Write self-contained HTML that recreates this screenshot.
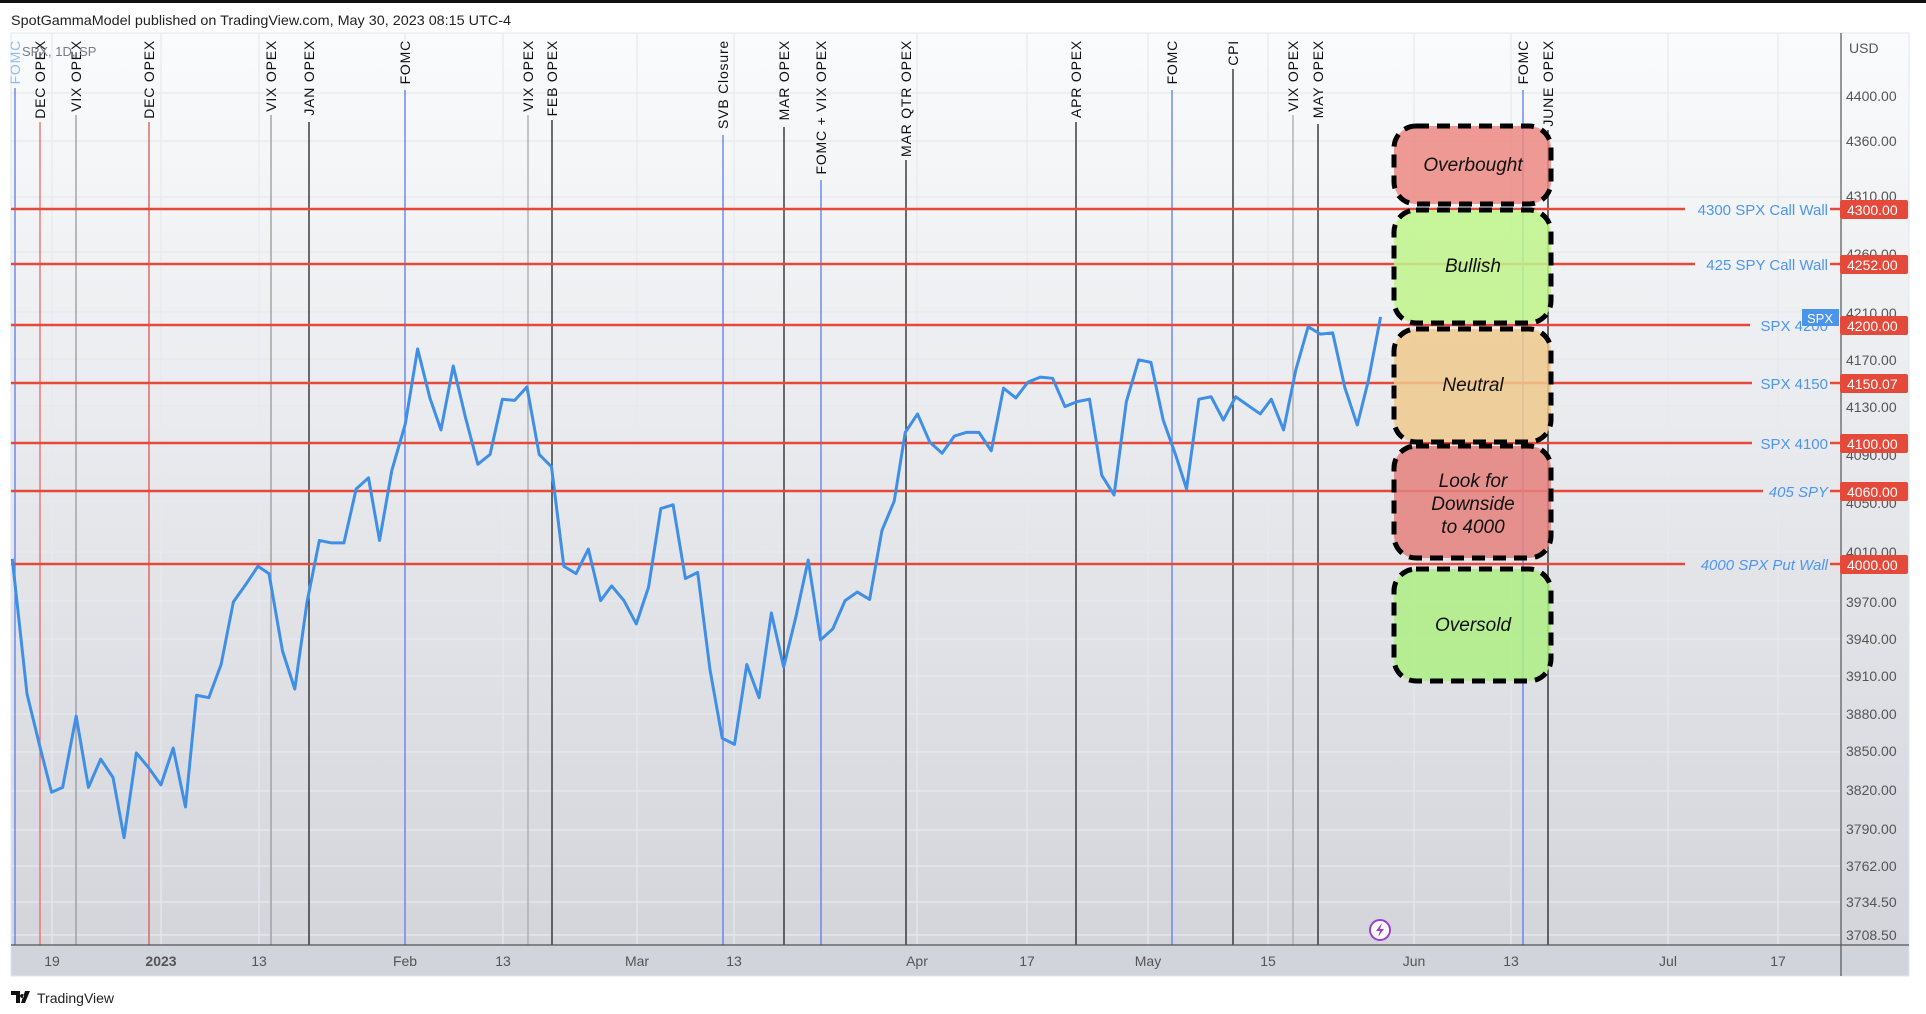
<!DOCTYPE html>
<html><head><meta charset="utf-8"><style>
html,body{margin:0;padding:0;background:#fff;}
svg{display:block;font-family:"Liberation Sans",sans-serif;}
</style></head><body>
<svg width="1926" height="1014" viewBox="0 0 1926 1014" xmlns="http://www.w3.org/2000/svg">
<defs>
<linearGradient id="bg" x1="0" y1="0" x2="0" y2="1">
<stop offset="0" stop-color="#fafbfc"/><stop offset="1" stop-color="#d3d5db"/>
</linearGradient>
</defs>
<rect x="0" y="0" width="1926" height="1014" fill="#fff"/>
<rect x="0" y="0" width="1926" height="3" fill="#111"/>
<text x="11" y="25" font-size="14" fill="#222" textLength="500" lengthAdjust="spacingAndGlyphs">SpotGammaModel published on TradingView.com, May 30, 2023 08:15 UTC-4</text>
<rect x="11" y="33" width="1898" height="912" fill="url(#bg)"/>
<rect x="11" y="945" width="1898" height="31" fill="#d1d4da"/>
<rect x="11" y="33" width="1898" height="943" fill="none" stroke="#e3e5ea" stroke-width="1"/>
<g stroke="#e6e9ee" stroke-width="1.2">
<line x1="11" x2="1840" y1="93" y2="93"/><line x1="11" x2="1840" y1="141" y2="141"/>
<line x1="11" x2="1840" y1="197" y2="197"/><line x1="11" x2="1840" y1="252" y2="252"/>
<line x1="11" x2="1840" y1="312" y2="312"/><line x1="11" x2="1840" y1="359" y2="359"/>
<line x1="11" x2="1840" y1="406" y2="406"/><line x1="11" x2="1840" y1="454" y2="454"/>
<line x1="11" x2="1840" y1="502" y2="502"/><line x1="11" x2="1840" y1="552" y2="552"/>
<line x1="11" x2="1840" y1="601" y2="601"/><line x1="11" x2="1840" y1="639" y2="639"/>
<line x1="11" x2="1840" y1="676" y2="676"/><line x1="11" x2="1840" y1="714" y2="714"/>
<line x1="11" x2="1840" y1="752" y2="752"/><line x1="11" x2="1840" y1="791" y2="791"/>
<line x1="11" x2="1840" y1="830" y2="830"/><line x1="11" x2="1840" y1="866" y2="866"/>
<line x1="11" x2="1840" y1="902" y2="902"/><line x1="11" x2="1840" y1="935" y2="935"/>
<line x1="52" x2="52" y1="33" y2="945"/><line x1="161" x2="161" y1="33" y2="945"/>
<line x1="259" x2="259" y1="33" y2="945"/><line x1="405" x2="405" y1="33" y2="945"/>
<line x1="503" x2="503" y1="33" y2="945"/><line x1="637" x2="637" y1="33" y2="945"/>
<line x1="734" x2="734" y1="33" y2="945"/><line x1="917" x2="917" y1="33" y2="945"/>
<line x1="1027" x2="1027" y1="33" y2="945"/><line x1="1148" x2="1148" y1="33" y2="945"/>
<line x1="1268" x2="1268" y1="33" y2="945"/><line x1="1414" x2="1414" y1="33" y2="945"/>
<line x1="1511" x2="1511" y1="33" y2="945"/><line x1="1668" x2="1668" y1="33" y2="945"/>
<line x1="1778" x2="1778" y1="33" y2="945"/>
</g>
<g stroke-width="1.3">
<line x1="15" x2="15" y1="88" y2="945" stroke="#5a7cf0"/>
<line x1="40" x2="40" y1="122" y2="945" stroke="#e86a6a"/>
<line x1="76" x2="76" y1="115" y2="945" stroke="#999"/>
<line x1="149" x2="149" y1="122" y2="945" stroke="#e05555"/>
<line x1="271" x2="271" y1="115" y2="945" stroke="#999"/>
<line x1="309" x2="309" y1="122" y2="945" stroke="#222"/>
<line x1="405" x2="405" y1="90" y2="945" stroke="#5a7cf0"/>
<line x1="528" x2="528" y1="115" y2="945" stroke="#aaa"/>
<line x1="552" x2="552" y1="120" y2="945" stroke="#222"/>
<line x1="723" x2="723" y1="135" y2="945" stroke="#5a7cf0"/>
<line x1="784" x2="784" y1="127" y2="945" stroke="#222"/>
<line x1="821" x2="821" y1="180" y2="945" stroke="#5a7cf0"/>
<line x1="906" x2="906" y1="160" y2="945" stroke="#222"/>
<line x1="1076" x2="1076" y1="122" y2="945" stroke="#222"/>
<line x1="1172" x2="1172" y1="90" y2="945" stroke="#5a7cf0"/>
<line x1="1233" x2="1233" y1="69" y2="945" stroke="#222"/>
<line x1="1293" x2="1293" y1="115" y2="945" stroke="#aaa"/>
<line x1="1318" x2="1318" y1="124" y2="945" stroke="#222"/>
<line x1="1523" x2="1523" y1="90" y2="945" stroke="#5a7cf0"/>
<line x1="1548" x2="1548" y1="130" y2="945" stroke="#222"/>
</g>
<g font-size="14" letter-spacing="0.8" fill="#111" text-anchor="end">
<text transform="translate(20,40) rotate(-90)" fill="#8fbdf0">FOMC</text>
<text transform="translate(45,40) rotate(-90)">DEC OPEX</text>
<text transform="translate(81,40) rotate(-90)">VIX OPEX</text>
<text transform="translate(154,40) rotate(-90)">DEC OPEX</text>
<text transform="translate(276,40) rotate(-90)">VIX OPEX</text>
<text transform="translate(314,40) rotate(-90)">JAN OPEX</text>
<text transform="translate(410,40) rotate(-90)">FOMC</text>
<text transform="translate(533,40) rotate(-90)">VIX OPEX</text>
<text transform="translate(557,40) rotate(-90)">FEB OPEX</text>
<text transform="translate(728,40) rotate(-90)">SVB Closure</text>
<text transform="translate(789,40) rotate(-90)">MAR OPEX</text>
<text transform="translate(826,40) rotate(-90)">FOMC + VIX OPEX</text>
<text transform="translate(911,40) rotate(-90)">MAR QTR OPEX</text>
<text transform="translate(1081,40) rotate(-90)">APR OPEX</text>
<text transform="translate(1177,40) rotate(-90)">FOMC</text>
<text transform="translate(1238,40) rotate(-90)">CPI</text>
<text transform="translate(1298,40) rotate(-90)">VIX OPEX</text>
<text transform="translate(1323,40) rotate(-90)">MAY OPEX</text>
<text transform="translate(1528,40) rotate(-90)">FOMC</text>
<text transform="translate(1553,40) rotate(-90)">JUNE OPEX</text>
</g>
<text x="22" y="56" font-size="13" fill="#787b86">SPX, 1D, SP</text>
<g stroke="#e5493a" stroke-width="2.5">
<line x1="11" x2="1685" y1="209" y2="209"/><line x1="1830" x2="1840" y1="209" y2="209"/>
<line x1="11" x2="1695" y1="264" y2="264"/><line x1="1830" x2="1840" y1="264" y2="264"/>
<line x1="11" x2="1750" y1="325" y2="325"/>
<line x1="11" x2="1752" y1="383" y2="383"/><line x1="1830" x2="1840" y1="383" y2="383"/>
<line x1="11" x2="1752" y1="443" y2="443"/><line x1="1830" x2="1840" y1="443" y2="443"/>
<line x1="11" x2="1763" y1="491" y2="491"/><line x1="1830" x2="1840" y1="491" y2="491"/>
<line x1="11" x2="1685" y1="564" y2="564"/><line x1="1830" x2="1840" y1="564" y2="564"/>
</g>
<g font-size="15" fill="#4d96ee" text-anchor="end">
<text x="1828" y="215">4300 SPX Call Wall</text>
<text x="1828" y="270">425 SPY Call Wall</text>
<text x="1828" y="331">SPX 4200</text>
<text x="1828" y="389">SPX 4150</text>
<text x="1828" y="449">SPX 4100</text>
<text x="1828" y="497" font-style="italic">405 SPY</text>
<text x="1828" y="570" font-style="italic">4000 SPX Put Wall</text>
</g>
<g stroke="#000" stroke-width="5" stroke-dasharray="13,8" fill-opacity="0.85">
<rect x="1394" y="126" width="157" height="78" rx="22" fill="#ec8883"/>
<rect x="1394" y="210" width="157" height="113" rx="22" fill="#c0f58a"/>
<rect x="1394" y="329" width="157" height="113" rx="22" fill="#efc98c"/>
<rect x="1394" y="446" width="157" height="112" rx="22" fill="#e5807c"/>
<rect x="1394" y="569" width="157" height="112" rx="22" fill="#aeee84"/>
</g>
<g font-size="19" font-style="italic" fill="#111" text-anchor="middle">
<text x="1473" y="171">Overbought</text>
<text x="1473" y="272">Bullish</text>
<text x="1473" y="391">Neutral</text>
<text x="1473" y="487">Look for</text>
<text x="1473" y="510">Downside</text>
<text x="1473" y="533">to 4000</text>
<text x="1473" y="631">Oversold</text>
</g>
<g transform="scale(1.2283)">
<polyline fill="none" stroke="#3f8fe6" stroke-width="3" vector-effect="non-scaling-stroke" stroke-linejoin="round" points="10,455 22,565 33,610 42,645 51,641 62,583 72,641 82,618 92,633 101,682 111,613 121,625 131,639 141,609 151,657 160,566 170,568 180,541 190,490 200,476 210,461 219,467 230,530 240,561 250,490 260,440 270,442 280,442 290,398 300,389 309,440 319,383 330,345 340,284 350,324 359,350 369,298 379,340 389,378 399,370 409,325 419,326 429,315 439,370 449,380 459,461 469,467 479,447 489,489 498,477 508,489 518,508 528,478 538,414 548,411 558,471 568,466 578,545 588,601 598,606 608,541 618,568 628,499 638,543 648,502 658,456 668,521 678,512 688,489 698,482 708,488 718,432 728,408 737,352 747,337 757,360 767,369 777,355 787,352 797,352 807,367 817,316 827,324 837,311 847,307 857,308 867,331 877,327 887,325 897,387 907,403 917,327 927,293 937,295 947,342 957,370 966,398 976,325 986,323 996,342 1006,323 1016,330 1026,337 1035,325 1045,350 1055,301 1065,266 1075,272 1085,271 1095,316 1105,346 1114,310 1124,258"/>
</g>
<line x1="1841" x2="1841" y1="33" y2="976" stroke="#555" stroke-width="1.2"/>
<line x1="11" x2="1909" y1="945" y2="945" stroke="#555" stroke-width="1.2"/>
<g font-size="14" fill="#555">
<text x="1849" y="53">USD</text>
<text x="1846" y="101">4400.00</text><text x="1846" y="146">4360.00</text>
<text x="1846" y="201">4310.00</text><text x="1846" y="259">4260.00</text>
<text x="1846" y="318">4210.00</text><text x="1846" y="365">4170.00</text>
<text x="1846" y="412">4130.00</text><text x="1846" y="460">4090.00</text>
<text x="1846" y="508">4050.00</text><text x="1846" y="557">4010.00</text>
<text x="1846" y="607">3970.00</text><text x="1846" y="644">3940.00</text>
<text x="1846" y="681">3910.00</text><text x="1846" y="719">3880.00</text>
<text x="1846" y="756">3850.00</text><text x="1846" y="795">3820.00</text>
<text x="1846" y="834">3790.00</text><text x="1846" y="871">3762.00</text>
<text x="1846" y="907">3734.50</text><text x="1846" y="940">3708.50</text>
</g>
<g fill="#e5493a">
<rect x="1840" y="200" width="68" height="19" rx="2"/>
<rect x="1840" y="255" width="68" height="19" rx="2"/>
<rect x="1840" y="316" width="68" height="19" rx="2"/>
<rect x="1840" y="374" width="68" height="19" rx="2"/>
<rect x="1840" y="434" width="68" height="19" rx="2"/>
<rect x="1840" y="482" width="68" height="19" rx="2"/>
<rect x="1840" y="555" width="68" height="19" rx="2"/>
</g>
<g font-size="14" fill="#fff">
<text x="1847" y="215">4300.00</text><text x="1847" y="270">4252.00</text>
<text x="1847" y="331">4200.00</text><text x="1847" y="389">4150.07</text>
<text x="1847" y="449">4100.00</text><text x="1847" y="497">4060.00</text>
<text x="1847" y="570">4000.00</text>
</g>
<rect x="1802" y="309" width="37" height="17" fill="#4a94ea"/>
<text x="1807" y="323" font-size="13" fill="#fff">SPX</text>
<circle cx="1380" cy="930" r="10" fill="#fff" stroke="#9c3fcf" stroke-width="2"/>
<path d="M1382,923 L1376,931 L1380,931 L1378,937 L1384,929 L1380,929 Z" fill="#9c3fcf"/>
<g font-size="14" fill="#555" text-anchor="middle">
<text x="52" y="966">19</text><text x="161" y="966" font-weight="bold">2023</text>
<text x="259" y="966">13</text><text x="405" y="966">Feb</text>
<text x="503" y="966">13</text><text x="637" y="966">Mar</text>
<text x="734" y="966">13</text><text x="917" y="966">Apr</text>
<text x="1027" y="966">17</text><text x="1148" y="966">May</text>
<text x="1268" y="966">15</text><text x="1414" y="966">Jun</text>
<text x="1511" y="966">13</text><text x="1668" y="966">Jul</text>
<text x="1778" y="966">17</text>
</g>
<path d="M11,991 h9 v12 h-4 v-8 h-5 z M22,994 a2,2 0 1 0 0.1,0 z M25,991 h5 l-5,12 h-4 z" fill="#111"/>
<text x="37" y="1003" font-size="14" fill="#222">TradingView</text>
</svg>
</body></html>
